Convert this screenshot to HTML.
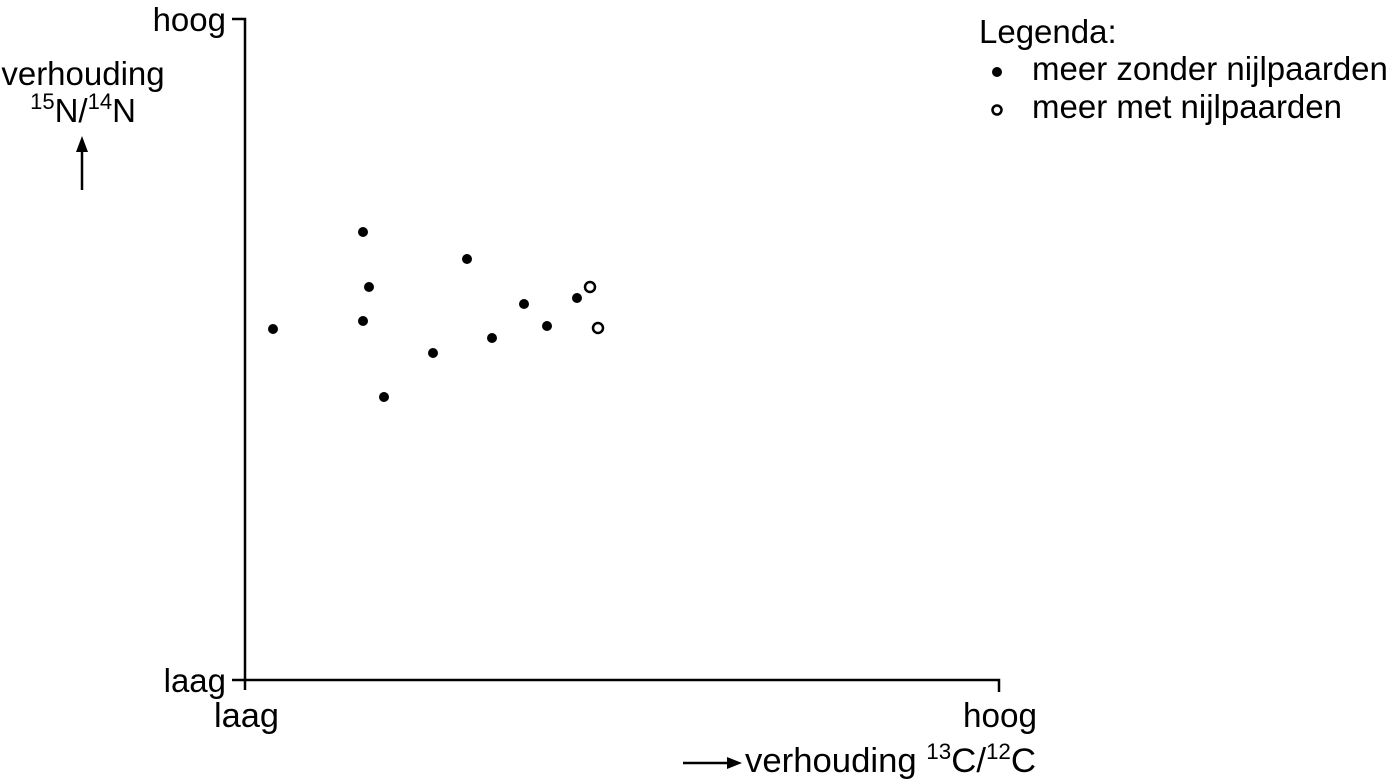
<!DOCTYPE html>
<html><head><style>body{margin:0;background:#fff}svg{display:block}text{font-family:"Liberation Sans",sans-serif;fill:#000}</style></head>
<body>
<svg width="1391" height="782" viewBox="0 0 1391 782">
<g stroke="#000" stroke-width="2.5" fill="none">
<polyline points="232,19 245,19 245,690"/>
<polyline points="232,680 999,680 999,692"/>
<line x1="82" y1="190" x2="82" y2="150"/>
<line x1="683" y1="763" x2="730" y2="763"/>
</g>
<polygon points="82,136 76,152 88,152" fill="#000"/>
<polygon points="742,763 727,757 727,769" fill="#000"/>
<text x="226" y="31" font-size="33" text-anchor="end">hoog</text>
<text x="226" y="692" font-size="33" text-anchor="end">laag</text>
<text x="83" y="85" font-size="33" text-anchor="middle">verhouding</text>
<text x="83" y="122" font-size="33" text-anchor="middle"><tspan font-size="22" dy="-13">15</tspan><tspan dy="13">N/</tspan><tspan font-size="22" dy="-13">14</tspan><tspan dy="13">N</tspan></text>
<text x="214" y="727" font-size="34" textLength="65" lengthAdjust="spacingAndGlyphs">laag</text>
<text x="963" y="727" font-size="34" textLength="74" lengthAdjust="spacingAndGlyphs">hoog</text>
<text x="745" y="772" font-size="34" textLength="291" lengthAdjust="spacingAndGlyphs">verhouding <tspan font-size="22" dy="-13">13</tspan><tspan dy="13">C/</tspan><tspan font-size="22" dy="-13">12</tspan><tspan dy="13">C</tspan></text>
<text x="979" y="43" font-size="33">Legenda:</text>
<text x="1032" y="80" font-size="33">meer zonder nijlpaarden</text>
<text x="1032" y="118" font-size="33">meer met nijlpaarden</text>
<g fill="#000">
<circle cx="997" cy="72" r="5"/>
<circle cx="273" cy="329" r="5"/><circle cx="363" cy="232" r="5"/><circle cx="369" cy="287" r="5"/>
<circle cx="363" cy="321" r="5"/><circle cx="384" cy="397" r="5"/><circle cx="433" cy="353" r="5"/>
<circle cx="467" cy="259" r="5"/><circle cx="492" cy="338" r="5"/><circle cx="524" cy="304" r="5"/>
<circle cx="547" cy="326" r="5"/><circle cx="577" cy="298" r="5"/>
</g>
<g fill="none" stroke="#000" stroke-width="2.5">
<circle cx="997" cy="110" r="4.5"/>
<circle cx="590" cy="287" r="5"/><circle cx="598" cy="328" r="5"/>
</g>
</svg>
</body></html>
